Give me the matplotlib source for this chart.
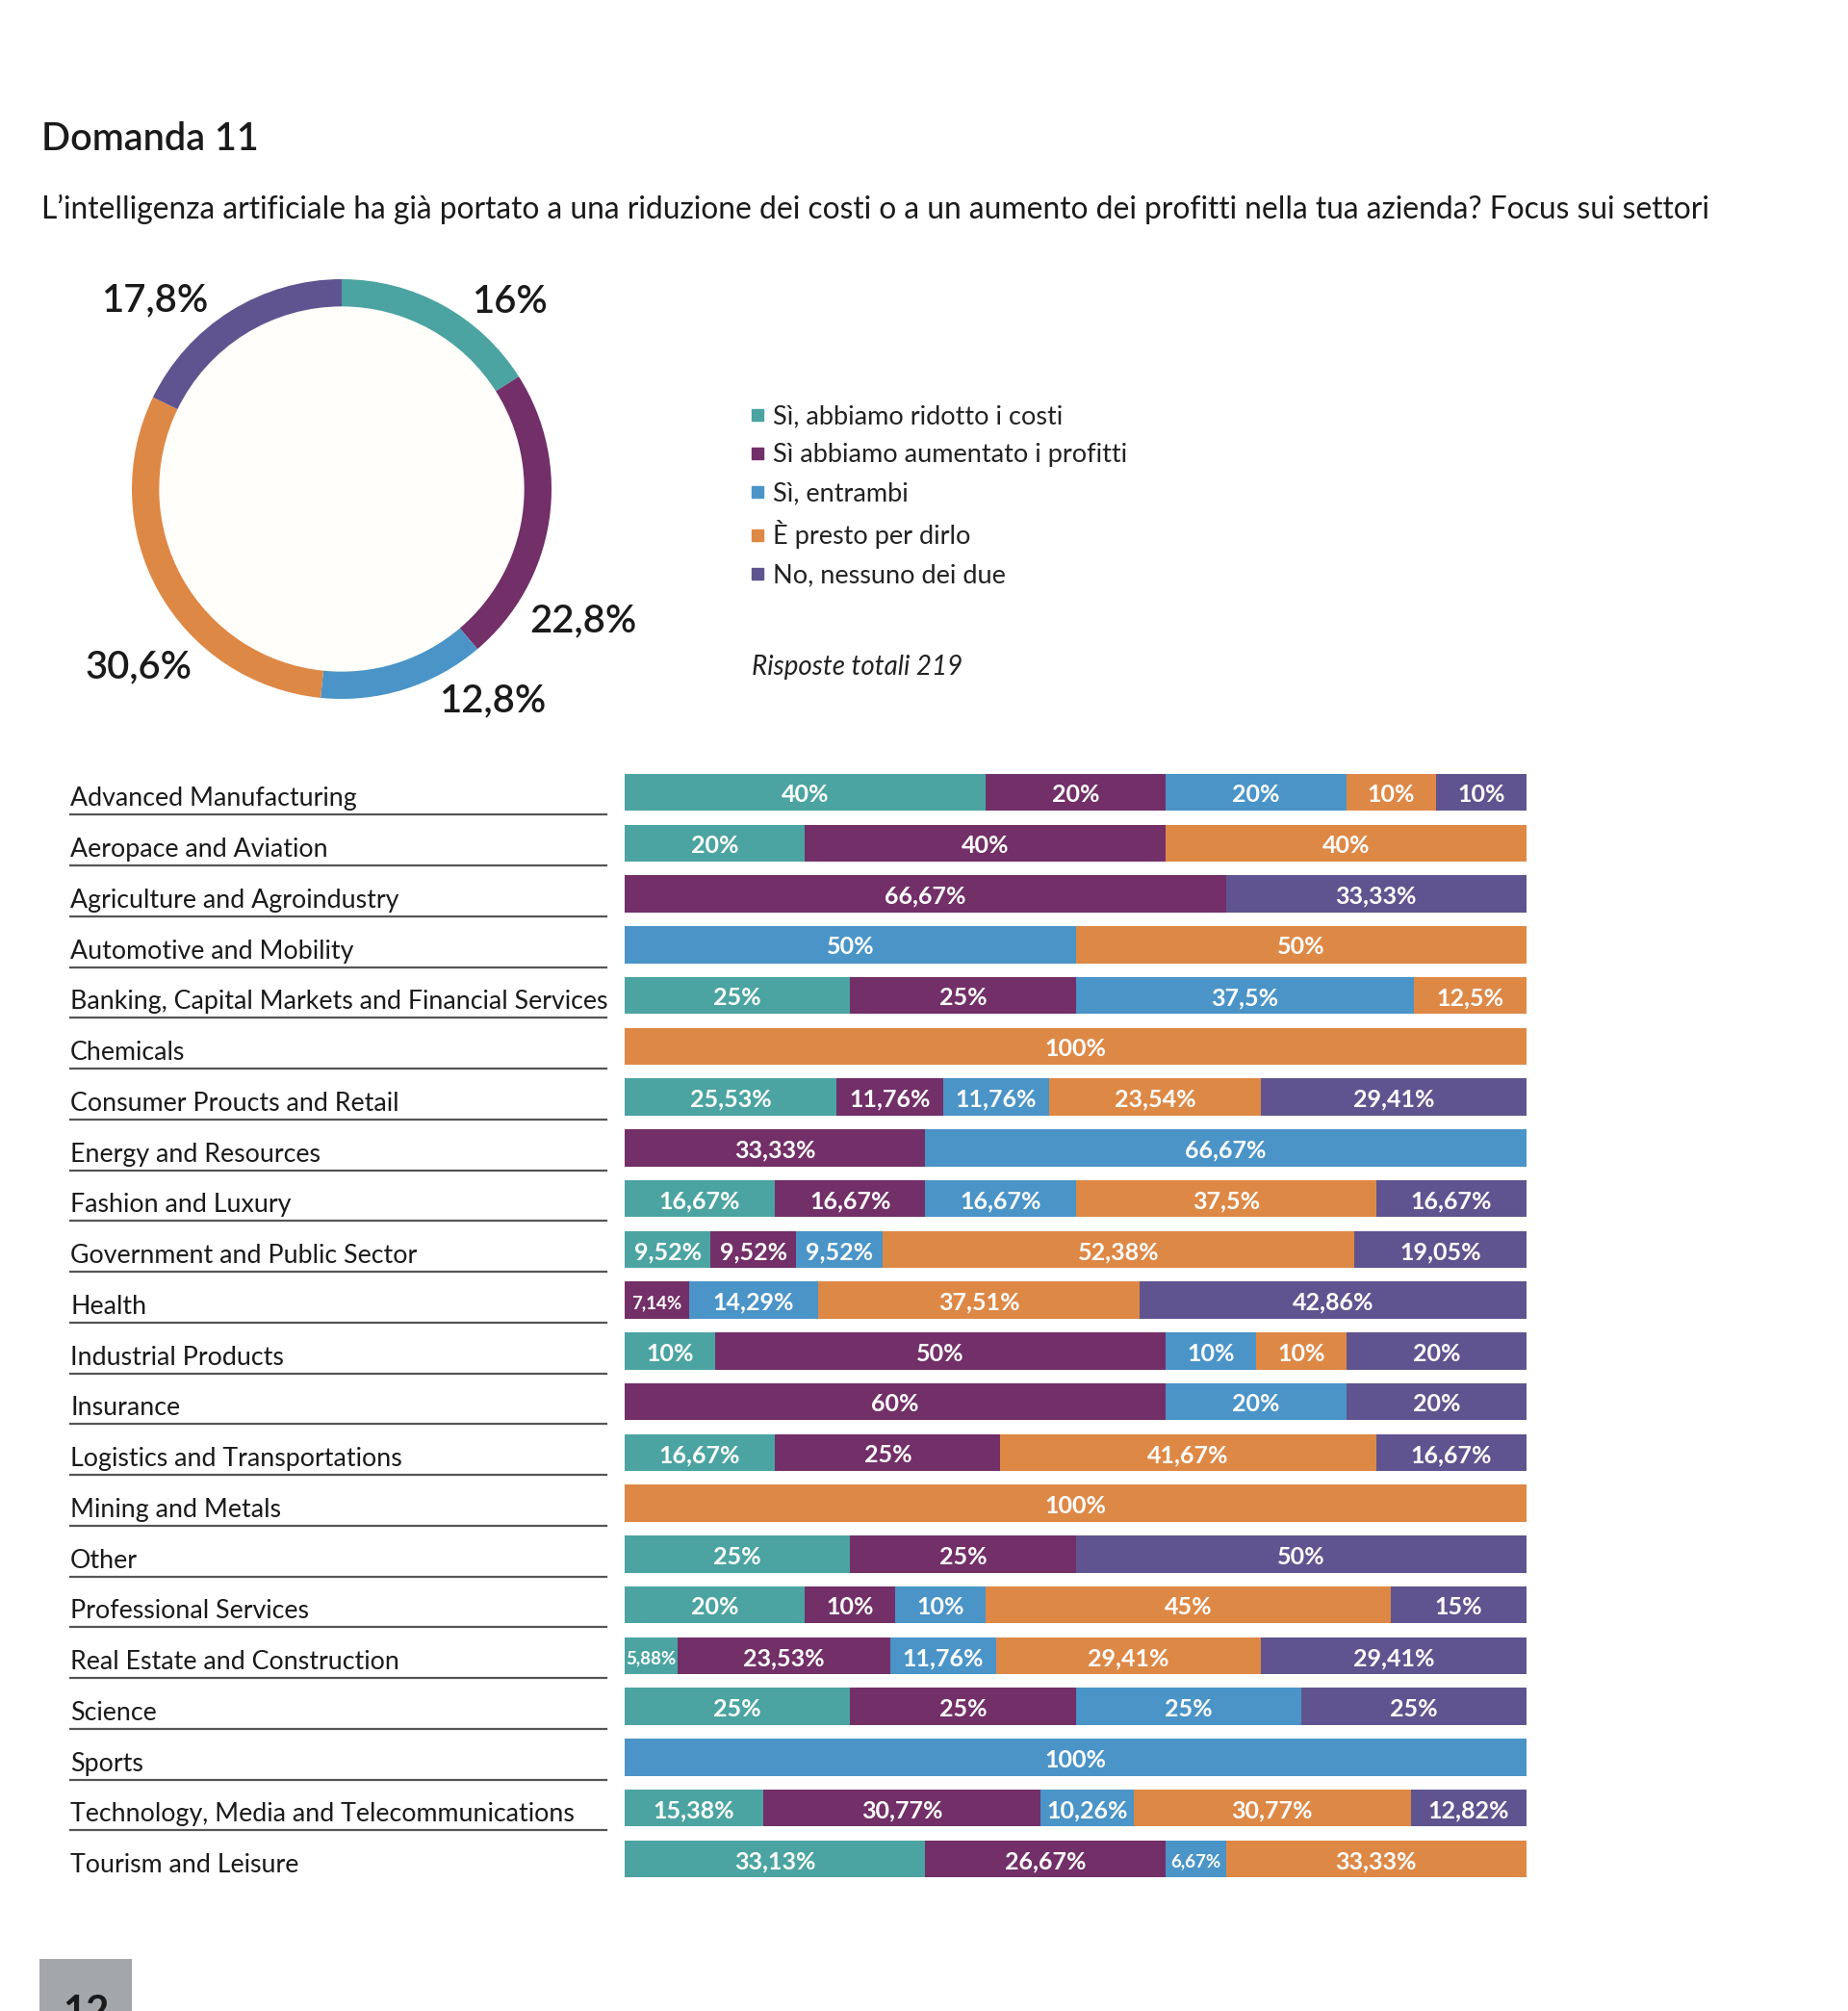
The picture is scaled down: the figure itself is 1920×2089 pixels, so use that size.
import numpy as np
import matplotlib
matplotlib.use("Agg")
import matplotlib.pyplot as plt
from matplotlib.lines import Line2D
from matplotlib.patches import Rectangle, Circle
from matplotlib.transforms import blended_transform_factory

plt.rcParams['font.family'] = ['Lato', 'DejaVu Sans']

# --- data ---
answers = ["Sì, abbiamo ridotto i costi", "Sì abbiamo aumentato i profitti",
           "Sì, entrambi", "È presto per dirlo", "No, nessuno dei due"]
colors = ["#4ba4a1", "#722f68", "#4a94c8", "#de8846", "#5f548f"]

donut_vals = [16, 22.8, 12.8, 30.6, 17.8]
# where each donut label sits, in units of the ring radius
donut_label_pos = [(0.80, 0.89), (1.15, -0.63), (0.72, -1.01), (-0.97, -0.85), (-0.89, 0.90)]

sectors = ["Advanced Manufacturing", "Aeropace and Aviation", "Agriculture and Agroindustry",
           "Automotive and Mobility", "Banking, Capital Markets and Financial Services",
           "Chemicals", "Consumer Proucts and Retail", "Energy and Resources",
           "Fashion and Luxury", "Government and Public Sector", "Health",
           "Industrial Products", "Insurance", "Logistics and Transportations",
           "Mining and Metals", "Other", "Professional Services",
           "Real Estate and Construction", "Science", "Sports",
           "Technology, Media and Telecommunications", "Tourism and Leisure"]

ridotto = [40, 20, 0, 0, 25, 0, 23.53, 0, 16.67, 9.52, 0, 10, 0, 16.67, 0, 25, 20, 5.88, 25, 0, 15.38, 33.33]
profitti = [20, 40, 66.67, 0, 25, 0, 11.76, 33.33, 16.67, 9.52, 7.14, 50, 60, 25, 0, 25, 10, 23.53, 25, 0, 30.77, 26.67]
entrambi = [20, 0, 0, 50, 37.5, 0, 11.76, 66.67, 16.67, 9.52, 14.29, 10, 20, 0, 0, 0, 10, 11.76, 25, 100, 10.26, 6.67]
presto = [10, 40, 0, 50, 12.5, 100, 23.54, 0, 33.33, 52.38, 35.71, 10, 0, 41.67, 100, 0, 45, 29.41, 0, 0, 30.77, 33.33]
nessuno = [10, 0, 33.33, 0, 0, 0, 29.41, 0, 16.67, 19.05, 42.86, 20, 20, 16.67, 0, 50, 15, 29.41, 25, 0, 12.82, 0]

# labels printed in the source that differ from the drawn width
printed = {(6, 0): "25,53%", (8, 3): "37,5%", (10, 3): "37,51%", (21, 0): "33,13%"}

series = [ridotto, profitti, entrambi, presto, nessuno]

W, H = 1920, 2089
fig = plt.figure(figsize=(W / 100, H / 100), dpi=100)
fig.patch.set_facecolor("white")

def fx(px):
    return px / W

def fy(py):
    return 1 - py / H

# titles
fig.text(fx(43), fy(145), "Domanda 11", fontsize=28.5, fontweight="semibold", va="center", color="#1a1a1a")
fig.text(fx(43), fy(217), "L’intelligenza artificiale ha già portato a una riduzione dei costi o a un aumento "
         "dei profitti nella tua azienda? Focus sui settori", fontsize=22.9, va="center", color="#1a1a1a")

# donut
R = 218
lim = 1.5
half = lim * R
axd = fig.add_axes([fx(355 - half), fy(508 + half), 2 * half / W, 2 * half / H])
axd.pie(donut_vals, colors=colors, startangle=90, counterclock=False, radius=1,
        wedgeprops=dict(width=0.13, edgecolor="none"))
axd.add_patch(Circle((0, 0), 0.87, color="#fffefa", zorder=0))
for v, (lx, ly) in zip(donut_vals, donut_label_pos):
    axd.text(lx, ly, f"{v:g}".replace(".", ",") + "%", fontsize=28.8, ha="center", va="center",
             color="#1a1a1a", fontweight="semibold")
axd.set_xlim(-lim, lim)
axd.set_ylim(-lim, lim)
axd.set_aspect("equal")
axd.axis("off")

# legend
handles = [Line2D([], [], marker="s", linestyle="none", markersize=9, color=c) for c in colors]
fig.legend(handles, answers, loc="upper left", bbox_to_anchor=(fx(780), fy(420)),
           frameon=False, fontsize=19.5, handlelength=0.55, handletextpad=0.3,
           labelspacing=0.56, borderpad=0, borderaxespad=0, labelcolor="#222222")
fig.text(fx(781), fy(693), "Risposte totali 219", fontsize=20, style="italic", va="center", color="#222222")

# stacked bars
n = len(sectors)
y = np.arange(n)
row = 52.76
top = 823 - row / 2
bot = 1931 + row / 2
ax = fig.add_axes([fx(649), fy(bot), (1586 - 649) / W, (bot - top) / H])
left = np.zeros(n)
for k, (vals, c) in enumerate(zip(series, colors)):
    vals = np.array(vals, dtype=float)
    ax.barh(y, vals, left=left, height=0.73, color=c, edgecolor="none")
    for i, v in enumerate(vals):
        if v <= 0:
            continue
        txt = printed.get((i, k), f"{v:g}".replace(".", ",") + "%")
        small = v < 8
        ax.text(left[i] + v / 2, i + 0.05, txt, ha="center", va="center", color="white",
                fontsize=13.5 if small else 18, fontweight="bold")
    left += vals
ax.set_xlim(0, 100)
ax.set_ylim(n - 0.5, -0.5)
ax.axis("off")

# sector names with underlines
tr = blended_transform_factory(fig.transFigure, ax.transData)
for i, s in enumerate(sectors):
    ax.text(fx(73), i + 0.27, s, transform=tr, fontsize=19.3, va="baseline", ha="left", color="#1a1a1a", clip_on=False)
    if i < n - 1:
        ax.add_line(Line2D([fx(73), fx(630)], [i + 0.44, i + 0.44], transform=tr, color="#555555",
                           linewidth=1.6, clip_on=False))

# page number tab
fig.patches.append(Rectangle((fx(41), 0), fx(137) - fx(41), fy(2035), transform=fig.transFigure,
                             facecolor="#a3a7a9", edgecolor="none"))
fig.text(fx(89), fy(2072), "12", fontsize=30, fontweight="bold", ha="center", va="top", color="#1a1a1a")

fig.savefig("out.png", dpi=100)
